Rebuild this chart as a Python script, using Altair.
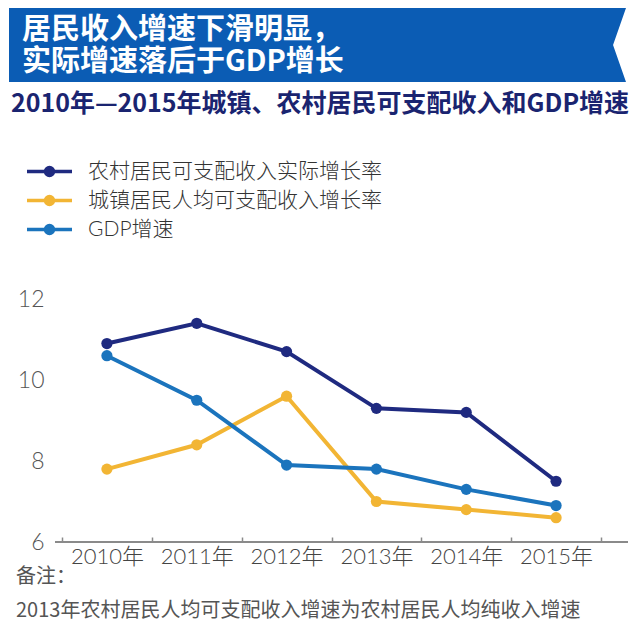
import altair as alt
import pandas as pd

years = ["2010年", "2011年", "2012年", "2013年", "2014年", "2015年"]
series_names = ["农村居民可支配收入实际增长率", "城镇居民人均可支配收入增长率", "GDP增速"]
rural = [10.9, 11.4, 10.7, 9.3, 9.2, 7.5]
urban = [7.8, 8.4, 9.6, 7.0, 6.8, 6.6]
gdp = [10.6, 9.5, 7.9, 7.8, 7.3, 6.9]
colors = ["#1f2a80", "#f2b534", "#1b74bd"]
y_ticks = [6, 8, 10, 12]
title_lines = ["居民收入增速下滑明显，", "实际增速落后于GDP增长"]
subtitle = "2010年—2015年城镇、农村居民可支配收入和GDP增速"
note_head = "备注："
note_text = "2013年农村居民人均可支配收入增速为农村居民人均纯收入增速"

rows = []
for name, vals in zip(series_names, [rural, urban, gdp]):
    for yr, v in zip(years, vals):
        rows.append({"year": yr, "value": v, "series": name})
df = pd.DataFrame(rows)

W, H = 576, 243
SANS = "Lato, 'Noto Sans CJK SC', sans-serif"
CJK = "'Noto Sans CJK SC', sans-serif"

legend_path = "M-3,0L3,0M0.53,0A0.53,0.53,0,1,1,-0.53,0A0.53,0.53,0,1,1,0.53,0Z"

x = alt.X("year:N", sort=years, title=None,
          scale=alt.Scale(range=[10, 549], paddingInner=0, paddingOuter=0),
          axis=alt.Axis(domain=False, tickBand="extent", tickSize=5, offset=-5,
                        tickColor="#8a8a8a", tickWidth=1.5, labelAngle=0,
                        labelFontSize=22, labelColor="#444", labelFont=SANS,
                        labelFontWeight=300, labelPadding=4, grid=False))
y = alt.Y("value:Q", title=None,
          scale=alt.Scale(domain=[6, 12], nice=False, zero=False),
          axis=alt.Axis(values=y_ticks, domain=False, ticks=False, labelFontSize=23,
                        labelPadding=8, labelFont=SANS, labelFontWeight=300,
                        gridDash=[5, 4], gridColor="#c8c8c8", gridWidth=1.2,
                        labelColor="#555"))
color = alt.Color("series:N", sort=series_names,
                  scale=alt.Scale(domain=series_names, range=colors),
                  legend=alt.Legend(orient="none", legendX=-13, legendY=-138, title=None,
                                    symbolType=legend_path, symbolSize=225,
                                    symbolStrokeWidth=3.5, symbolOpacity=1,
                                    labelFontSize=21, labelLimit=0,
                                    labelColor="#333", labelFont=SANS, labelFontWeight=300,
                                    labelOffset=28, rowPadding=6))

base = alt.Chart(df)
lines = base.mark_line(strokeWidth=4).encode(x=x, y=y, color=color)
points = base.mark_point(filled=True, size=125, opacity=1).encode(x=x, y=y, color=color)

baseline = alt.Chart(pd.DataFrame({"v": [6]})).mark_rule(color="#8a8a8a", strokeWidth=2).encode(
    y=alt.datum(6), x=alt.value(3), x2=alt.value(576))

banner_path = "M-1,-0.12L1,-0.12L0.958,0L1,0.12L-1,0.12Z"
banner = alt.Chart(pd.DataFrame({"k": [0]})).mark_point(
    shape=banner_path, size=617 * 617, filled=True, fill="#0b5cb4", opacity=1, strokeWidth=0
).encode(x=alt.value(265.5), y=alt.value(-254))


def text_layer(s, xv, yv, **kw):
    return alt.Chart(pd.DataFrame({"label": [s]})).mark_text(**kw).encode(
        x=alt.value(xv), y=alt.value(yv), text="label:N")


t1 = text_layer(title_lines[0], -30, -269, align="left", baseline="middle", fontSize=29,
                fontWeight="bold", color="white", font=CJK)
t2 = text_layer(title_lines[1], -30, -237, align="left", baseline="middle", fontSize=29,
                fontWeight="bold", color="white", font=CJK)
st = text_layer(subtitle, 268, -195, align="center", baseline="middle", fontSize=25,
                fontWeight="bold", color="#1a2470", font=CJK)
n1 = text_layer(note_head, -36, 278, align="left", baseline="middle", fontSize=20,
                color="#555", font=CJK)
n2 = text_layer(note_text, -36, 312, align="left", baseline="middle", fontSize=20,
                color="#555", font=CJK)

chart = alt.layer(baseline, lines, points, banner, t1, t2, st, n1, n2).properties(
    width=W, height=H,
    padding={"left": 44, "top": 291, "right": 4, "bottom": 84},
    autosize=alt.AutoSizeParams(type="none"),
).configure_view(stroke=None)

chart.save("out.html", embed_options={"renderer": "svg", "actions": False})
